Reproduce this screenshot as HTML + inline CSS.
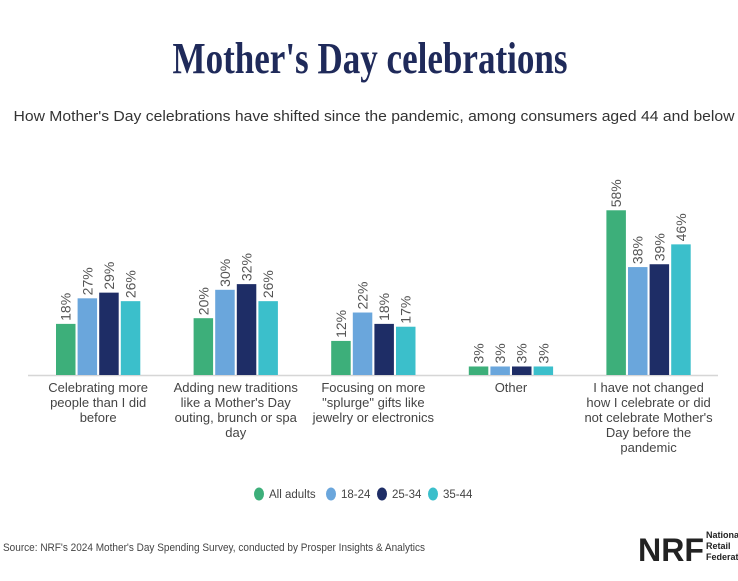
<!DOCTYPE html>
<html><head><meta charset="utf-8"><style>
html,body{margin:0;padding:0;background:#fff;}
svg{display:block;font-family:"Liberation Sans",sans-serif;}
</style></head><body>
<svg id="chart" width="738" height="581" viewBox="0 0 738 581">
<text x="370" y="73" text-anchor="middle" font-family="Liberation Serif, serif" font-weight="bold" font-size="44" fill="#1f2a5a" textLength="395" lengthAdjust="spacingAndGlyphs">Mother's Day celebrations</text>
<text x="374" y="121" text-anchor="middle" font-size="15" fill="#333" textLength="721" lengthAdjust="spacingAndGlyphs">How Mother's Day celebrations have shifted since the pandemic, among consumers aged 44 and below</text>
<line x1="28" y1="375.5" x2="718" y2="375.5" stroke="#d6d6d6" stroke-width="1.5"/>
<g id="bars"></g>
<g id="legend"></g>
<text x="3" y="551" font-size="11" fill="#444" textLength="422" lengthAdjust="spacingAndGlyphs">Source: NRF's 2024 Mother's Day Spending Survey, conducted by Prosper Insights &amp; Analytics</text>
<g>
<text x="638" y="561" font-size="32" font-weight="bold" fill="#222" textLength="66" lengthAdjust="spacingAndGlyphs">NRF</text>
<text x="706" y="538" font-size="9" font-weight="bold" fill="#222">National</text>
<text x="706" y="549" font-size="9" font-weight="bold" fill="#222">Retail</text>
<text x="706" y="560" font-size="9" font-weight="bold" fill="#222">Federation</text>
</g>
</svg>
<script>
const categories = [
  ["Celebrating more","people than I did","before"],
  ["Adding new traditions","like a Mother's Day","outing, brunch or spa","day"],
  ["Focusing on more","\"splurge\" gifts like","jewelry or electronics"],
  ["Other"],
  ["I have not changed","how I celebrate or did","not celebrate Mother's","Day before the","pandemic"]
];
const seriesNames = ["All adults","18-24","25-34","35-44"];
const allAdults = [18,20,12,3,58];
const age1824 = [27,30,22,3,38];
const age2534 = [29,32,18,3,39];
const age3544 = [26,26,17,3,46];
const series = [allAdults, age1824, age2534, age3544];
const colors = ["#3daf7a","#6aa6dc","#1e2d66","#3bbfcb"];
const NS = "http://www.w3.org/2000/svg";
const baseY = 375, pxPer = 2.84;
const yScale = v => baseY - v * pxPer;
const groupX = i => 56 + i * 137.6;
const barW = 19.5, step = 21.6;
const g = document.getElementById('bars');
function mk(tag, attrs, parent){const e=document.createElementNS(NS,tag);for(const k in attrs)e.setAttribute(k,attrs[k]);parent.appendChild(e);return e;}
categories.forEach((cat, i) => {
  series.forEach((s, j) => {
    const x = groupX(i) + j * step;
    const y = yScale(s[i]);
    const r = mk('rect', {x:x, y:y, width:barW, height:baseY - y, fill:colors[j]}, g);
    
    
    const cx = x + barW/2 + 5, cy = y - 3;
    const t = mk('text', {x:cx, y:cy, transform:'rotate(-90 '+cx+' '+cy+')', 'font-size':14, fill:'#555'}, g);
    t.textContent = s[i] + '%';
    
    
  });
  const lx = groupX(i) + (3*step + barW)/2;
  const t = mk('text', {x:lx, y:392, 'text-anchor':'middle', 'font-size':13, fill:'#444'}, g);
  
  
  cat.forEach((line, k) => {
    const ts = mk('tspan', {x:lx, dy: k===0 ? 0 : 15}, t);
    ts.textContent = line;
  });
});
const leg = document.getElementById('legend');
const legX = [254, 326, 377, 428];
seriesNames.forEach((n, j) => {
  const e = mk('ellipse', {cx:legX[j]+5, cy:494, rx:5, ry:6.5, fill:colors[j]}, leg);
  
  
  const t = mk('text', {x:legX[j]+15, y:498, 'font-size':11.5, fill:'#444'}, leg);
  t.textContent = n;
  
  
});
</script>
</body></html>
